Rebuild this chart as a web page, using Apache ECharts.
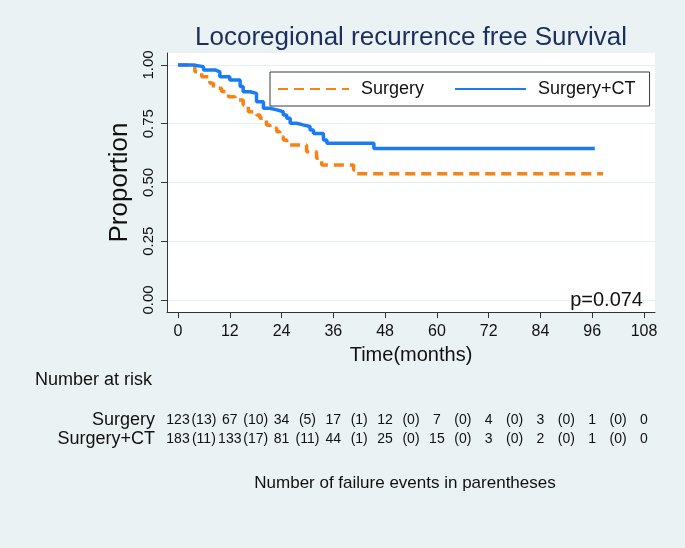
<!DOCTYPE html>
<html><head><meta charset="utf-8">
<script src="https://cdn.jsdelivr.net/npm/echarts@6.0.0/dist/echarts.min.js"></script>
<style>html,body{margin:0;padding:0;background:#eaf2f3}#c{width:685px;height:548px}</style>
</head><body><div id="c"></div>
<script>
const xTicks = [0, 12, 24, 36, 48, 60, 72, 84, 96, 108];
const yTicks = [0, 0.25, 0.5, 0.75, 1];
const seriesNames = ['Surgery', 'Surgery+CT'];
const surgeryTime = [0, 3.9, 5.5, 7.4, 8.2, 10.1, 11.7, 13.2, 15.1, 16.3, 18.2, 19.0, 20.5, 21.3, 22.9, 23.6, 24.4, 25.2, 29.8, 32.1, 33.3, 40.7, 41.4, 98.5];
const surgerySurv = [1.0, 0.971, 0.95, 0.922, 0.901, 0.887, 0.865, 0.851, 0.830, 0.801, 0.787, 0.773, 0.745, 0.731, 0.716, 0.695, 0.681, 0.66, 0.631, 0.603, 0.574, 0.553, 0.537, 0.537];
const ctTime = [0, 3.5, 5.9, 8.6, 9.7, 12.0, 14.4, 15.1, 16.7, 18.2, 19.8, 21.3, 22.9, 24.4, 25.2, 26.0, 27.5, 29.0, 30.6, 31.4, 33.7, 34.5, 45.4, 96.6];
const ctSurv = [1.0, 0.993, 0.979, 0.971, 0.95, 0.936, 0.908, 0.886, 0.879, 0.844, 0.816, 0.809, 0.801, 0.787, 0.773, 0.752, 0.745, 0.738, 0.723, 0.709, 0.681, 0.667, 0.645, 0.645];
const riskSurgery = [123, 67, 34, 17, 12, 7, 4, 3, 1, 0];
const eventsSurgery = [13, 10, 5, 1, 0, 0, 0, 0, 0];
const riskCT = [183, 133, 81, 44, 25, 15, 3, 2, 1, 0];
const eventsCT = [11, 17, 11, 1, 0, 0, 0, 0, 0];
const titleText = 'Locoregional recurrence free Survival';
const pText = 'p=0.074';
const riskTitle = 'Number at risk';
const footText = 'Number of failure events in parentheses';

const FONT = '"Liberation Sans", Arial, sans-serif';
const ORANGE = '#fa8214';
const BLUE = '#1a7cf5';
const chart = echarts.init(document.getElementById('c'), null, {renderer: 'canvas'});
const zip = (t, s) => t.map((v, i) => [v, s[i]]);

chart.setOption({
  animation: false,
  backgroundColor: '#eaf2f3',
  textStyle: {fontFamily: FONT},
  title: {text: titleText, left: 195, top: 25, padding: 0,
    textStyle: {fontSize: 26, fontWeight: 'normal', color: '#1c2f5c', fontFamily: FONT}},
  legend: {data: seriesNames, left: 270, top: 72, padding: [8, 14, 8, 7], itemGap: 30,
    itemWidth: 71, itemHeight: 14, borderColor: '#3a3a3a', borderWidth: 1, borderRadius: 0,
    backgroundColor: '#fff', itemStyle: {opacity: 0},
    textStyle: {fontSize: 18, color: '#111', fontFamily: FONT, padding: [0, 0, 0, 7]}},
  grid: {left: 167, top: 53, width: 488, height: 259, show: true, backgroundColor: '#fff', borderWidth: 0},
  xAxis: {type: 'value', min: -2.549, max: 110.55,
    axisLine: {show: true, onZero: false, lineStyle: {color: '#333', width: 1}},
    axisTick: {show: true, length: 6, customValues: xTicks, lineStyle: {color: '#333'}},
    axisLabel: {fontSize: 16, color: '#111', margin: 12, customValues: xTicks, fontFamily: FONT},
    splitLine: {show: false},
    name: 'Time(months)', nameLocation: 'middle', nameGap: 33,
    nameTextStyle: {fontSize: 20, color: '#111', fontFamily: FONT}},
  yAxis: {type: 'value', min: -0.051, max: 1.051,
    axisLine: {show: true, onZero: false, lineStyle: {color: '#333', width: 1}},
    axisTick: {show: true, length: 6, customValues: yTicks, lineStyle: {color: '#333'}},
    axisLabel: {fontSize: 15, color: '#111', rotate: 90, margin: 11, customValues: yTicks,
      formatter: v => v.toFixed(2), fontFamily: FONT},
    splitLine: {show: true, lineStyle: {color: '#e6eff1', width: 1}},
    name: 'Proportion', nameLocation: 'middle', nameRotate: 90, nameGap: 33,
    nameTextStyle: {fontSize: 26, color: '#111', fontFamily: FONT}},
  series: [
    {name: seriesNames[0], type: 'line', step: 'end', symbol: 'none', data: zip(surgeryTime, surgerySurv),
      lineStyle: {color: ORANGE, width: 3.5, type: [10, 6]}, itemStyle: {color: ORANGE}, z: 3},
    {name: seriesNames[1], type: 'line', step: 'end', symbol: 'none', data: zip(ctTime, ctSurv),
      lineStyle: {color: BLUE, width: 3.5, type: 'solid'}, itemStyle: {color: BLUE}, z: 4}
  ]
});

const px = t => chart.convertToPixel({xAxisIndex: 0}, t);
const txt = (text, x, y, size, align) => ({type: 'text', x: x, y: y, silent: true,
  style: {text: String(text), fill: '#111', font: size + 'px ' + FONT, textAlign: align || 'center', textVerticalAlign: 'middle'}});
const g = [];
g.push(txt(pText, px(108) - 1, 300, 20, 'right'));
g.push(txt(riskTitle, 35, 380, 18, 'left'));
g.push(txt(seriesNames[0], 155, 420, 18, 'right'));
g.push(txt(seriesNames[1], 155, 439, 18, 'right'));
riskSurgery.forEach((v, i) => g.push(txt(v, px(xTicks[i]), 420, 14)));
eventsSurgery.forEach((v, i) => g.push(txt('(' + v + ')', px(xTicks[i] + 6), 420, 14)));
riskCT.forEach((v, i) => g.push(txt(v, px(xTicks[i]), 439, 14)));
eventsCT.forEach((v, i) => g.push(txt('(' + v + ')', px(xTicks[i] + 6), 439, 14)));
g.push(txt(footText, 405, 483, 17, 'center'));
chart.setOption({graphic: {elements: g}});
</script>
</body></html>
